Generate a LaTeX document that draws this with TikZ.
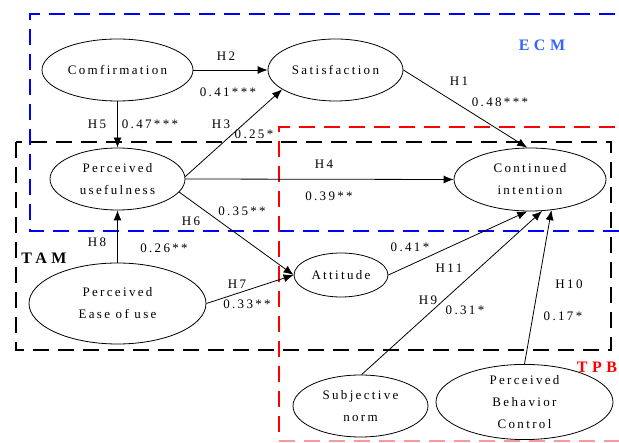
\documentclass[tikz,border=0pt]{standalone}
\usepackage{fontspec}
\setmainfont{Liberation Serif}
\newfontfamily\spaced[LetterSpace=18]{Liberation Serif}
\newfontfamily\spacedwide[LetterSpace=28]{Liberation Serif}
\usetikzlibrary{arrows.meta,shapes.geometric}
\definecolor{ecmblue}{RGB}{50,100,255}
\definecolor{boxblue}{RGB}{0,0,255}
\definecolor{boxred}{RGB}{255,0,0}
\begin{document}
\begin{tikzpicture}[x=1pt,y=-1pt,
  ell/.style={draw, ellipse, line width=0.8pt, inner sep=0pt, align=center,
    font=\spaced\fontsize{13}{22}\selectfont},
  lbl/.style={font=\spaced\fontsize{13}{15}\selectfont, inner sep=0pt},
  arr/.style={-{Latex[length=10pt,width=8pt]}, line width=0.8pt},
  boxline/.style={line width=2.8pt, dash pattern=on 16pt off 9pt},
  title/.style={font=\spacedwide\bfseries\fontsize{16}{18}\selectfont, inner sep=0pt}]
\useasboundingbox (0,0) rectangle (619,443);
\begin{scope}
  \clip (0,0) rectangle (619,443);
  \draw[boxline, boxblue] (640,14) -- (30,14) -- (30,231) -- (640,231);
  \draw[boxline, black] (16,142) rectangle (611,350);
  \draw[boxline, boxred] (640,127) -- (279,127) -- (279,441);
  \draw[line width=1.5pt, boxred!40, dash pattern=on 16pt off 9pt] (279,441) -- (640,441);
\end{scope}
% titles
\node[title, text=ecmblue] (ecm) at (542,45) {ECM};
\node[title, text=black] (tam) at (44,258) {TAM};
\node[title, text=boxred] (tpb) at (597,367) {TPB};
% constructs
\node[ell, minimum width=151pt, minimum height=62pt] (conf) at (117.5,70) {Comfirmation};
\node[ell, minimum width=135pt, minimum height=62pt] (sat) at (335.5,70) {Satisfaction};
\node[ell, minimum width=135pt, minimum height=62pt] (pu) at (117.5,179) {Perceived\\usefulness};
\node[ell, minimum width=152pt, minimum height=63pt] (ci) at (530,179.5) {Continued\\intention};
\node[ell, minimum width=94pt, minimum height=44pt] (att) at (341,275) {Attitude};
\node[ell, minimum width=177pt, minimum height=81pt] (peou) at (117.5,303.5) {Perceived\\Ease of use};
\node[ell, minimum width=135pt, minimum height=62pt] (sn) at (360.5,406) {Subjective\\norm};
\node[ell, minimum width=177pt, minimum height=60pt] (pbc) at (524.5,402) {Perceived\\Behavior\\Control};
% paths
\draw[arr] (conf.east) -- (sat.west);
\draw[arr] (conf.south) -- (pu.north);
\draw[arr] (pu.2) -- (sat.200);
\draw[arr] (pu.east) -- (ci.west);
\draw[arr] (pu.-12) -- (att.west);
\draw[arr] (peou.north) -- (pu.south);
\draw[arr] (peou.east) -- (att.west);
\draw[arr] (sat.east) -- (ci.95);
\draw[arr] (att.east) -- (ci.-95);
\draw[arr] (sn.88) -- (ci.-69);
\draw[arr] (pbc.north) -- (ci.-55);
% labels
\node[lbl] (h2) at (226,56) {H2};
\node[lbl] (c2) at (228,92) {0.41***};
\node[lbl] (h5) at (97,124) {H5};
\node[lbl] (c5) at (150,124) {0.47***};
\node[lbl] (h3) at (221,124) {H3};
\node[lbl] (c3) at (254,134) {0.25*};
\node[lbl] (h4) at (324,164) {H4};
\node[lbl] (c4) at (329,196) {0.39**};
\node[lbl] (h6) at (191,221) {H6};
\node[lbl] (c6) at (242,211) {0.35**};
\node[lbl] (h1) at (459,81) {H1};
\node[lbl] (c1) at (500,102) {0.48***};
\node[lbl] (h8) at (97,242) {H8};
\node[lbl] (c8) at (164,248) {0.26**};
\node[lbl] (h7) at (237,284) {H7};
\node[lbl] (c7) at (247,304) {0.33**};
\node[lbl] (c11) at (410,247) {0.41*};
\node[lbl] (h11) at (449,268) {H11};
\node[lbl] (h9) at (428,300) {H9};
\node[lbl] (c9) at (465,310) {0.31*};
\node[lbl] (h10) at (569,284) {H10};
\node[lbl] (c10) at (563,316) {0.17*};
\end{tikzpicture}
\end{document}
